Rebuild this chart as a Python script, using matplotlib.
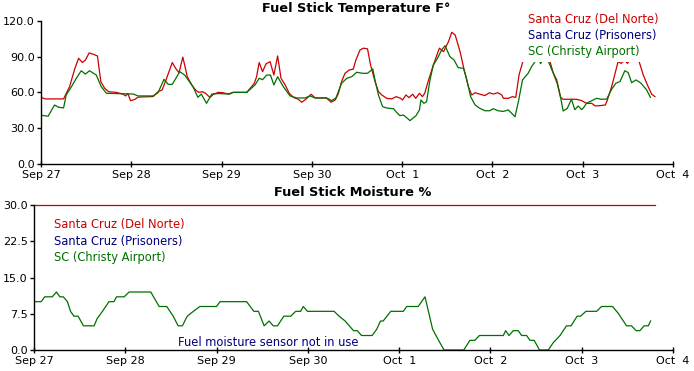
import matplotlib
matplotlib.use("Agg")
import matplotlib.pyplot as plt
from matplotlib.patches import Rectangle

# hours since Sep 27 00:00
day_ticks = [0, 24, 48, 72, 96, 120, 144, 168]
day_labels = ["Sep 27", "Sep 28", "Sep 29", "Sep 30", "Oct  1", "Oct  2", "Oct  3", "Oct  4"]

series_names = ["Santa Cruz (Del Norte)", "Santa Cruz (Prisoners)", "SC (Christy Airport)"]
series_colors = ["#cc0000", "#000080", "#007000"]

# Del Norte temperature
dn_hours = [0, 1.0, 6.0, 7.6, 9.0, 10.0, 11.0, 11.8, 12.8, 13.8, 15.0, 15.9, 16.9, 18.0, 20.0,
            21.8, 22.5, 23.1, 23.8, 24.9, 25.8, 29.8, 31.1, 32.2, 33.3, 34.9, 35.8, 36.7, 37.7,
            38.9, 40.2, 41.1, 41.9, 43.0, 43.8, 44.9, 45.8, 47.1, 48.4, 49.7, 51.1, 54.7, 55.6,
            56.7, 57.3, 58.0, 58.9, 59.8, 60.9, 61.9, 62.9, 63.8, 64.9, 66.0, 67.1, 68.4, 69.3,
            70.4, 71.8, 72.9, 75.9, 77.1, 78.2, 79.0, 79.9, 80.8, 81.9, 83.0, 83.7, 84.8, 85.7,
            86.8, 87.6, 88.8, 89.7, 90.6, 91.9, 93.2, 94.4, 95.6, 96.1, 97.0, 97.8, 98.8, 99.6,
            100.6, 101.4, 102.0, 102.9, 104.3, 105.9, 107.0, 108.3, 109.2, 110.1, 111.4, 112.4,
            113.6, 114.5, 115.4, 116.7, 118.0, 119.2, 120.2, 121.4, 122.5, 122.9, 124.2, 125.3,
            126.2, 127.1, 128.2, 129.5, 131.0, 133.0, 134.5, 135.3, 136.2, 137.2, 138.1, 138.8,
            142.3, 143.7, 145.0, 146.4, 147.3, 148.6, 150.0, 150.4, 151.7, 152.6, 153.4, 154.2,
            155.1, 155.9, 156.8, 158.0, 159.0, 160.1, 161.2, 162.3, 163.2]
dn_temp = [56, 54.5, 54.5, 64.8, 80, 88.5, 85, 87, 93, 92, 90.5, 69, 63.5, 60.5, 60,
           58.5, 57, 59, 53, 54, 56, 56.5, 60.5, 62, 71, 85, 80, 76.5, 89.5,
           73, 65.5, 62, 60, 60.5, 59, 55.8, 58.2, 60, 59.7, 58.6, 60, 60, 63.4,
           67.6, 73, 85, 77.3, 83.8, 85.7, 74.5, 90.5, 71.8, 66.2, 59.2, 55.8, 54.2, 51.7,
           54.2, 58.4, 55.3, 55.3, 51.7, 53.6, 58.6, 69, 75.9, 78.7, 79.4, 87, 95.5, 97,
           96.4, 83, 69, 60.6, 57.8, 55, 54.5, 56.4, 55, 53.6, 57.8, 55.6, 58.4, 55,
           59.2, 56.4, 59.2, 69, 83, 97, 94, 102.4, 110.3, 108, 94, 80,
           64.8, 57.8, 59.7, 58.4, 57.3, 59.7, 58.6, 59.7, 57.8, 55, 55, 56.4,
           55.8, 75, 87, 92, 95, 96, 92, 85.7, 75.9, 67.6, 55.8, 54.2,
           54.2, 53.1, 50.8, 50.8, 48.6, 48.9, 49.4, 52.2, 64.8, 75.9, 85.7, 84.3,
           86.6, 84.3, 88, 89, 85.7, 74.5, 66.2, 58.6, 56.4]

# Christy Airport temperature
ca_hours = [0, 1.9, 3.6, 4.7, 6.0, 6.7, 8.1, 9.4, 10.7, 11.8, 12.9, 14.7, 16.0, 17.4, 24.5,
            25.8, 29.8, 31.1, 32.7, 33.8, 34.9, 36.9, 38.2, 40.4, 41.7, 42.6, 44.0, 45.4, 47.1,
            50.2, 51.1, 54.7, 56.9, 58.0, 58.9, 60.0, 61.0, 61.9, 62.9, 64.4, 66.2, 68.0, 70.2,
            71.5, 72.9, 75.9, 77.3, 78.4, 79.9, 81.3, 82.6, 83.9, 85.6, 86.8, 88.2, 88.8, 89.7,
            90.8, 91.9, 93.7, 94.4, 95.4, 96.3, 97.2, 98.1, 98.8, 99.7, 100.6, 101.0, 101.8,
            102.5, 103.4, 104.3, 105.4, 106.5, 107.4, 108.7, 109.8, 110.9, 112.3, 113.1, 114.2,
            115.4, 116.5, 118.0, 119.3, 120.2, 121.5, 122.9, 124.2, 125.1, 126.0, 126.9, 128.0,
            129.5, 130.4, 131.6, 132.2, 132.8, 133.6, 134.8, 136.0, 137.1, 138.0, 138.8, 139.9,
            141.0, 141.9, 142.8, 143.7, 144.3, 145.0, 146.4, 147.7, 149.0, 150.4, 151.7, 152.8,
            153.9, 155.2, 156.1, 157.0, 158.2, 159.5, 161.0, 162.0]
ca_temp = [40.8, 40, 49.4, 47.5, 47, 57.8, 64.8, 71.8, 78.1, 75.3, 78.1, 74.5, 64.8, 59.2, 58.6,
           57, 57, 59.7, 70.9, 66.7, 66.7, 77.3, 74.5, 64.8, 55.8, 58.6, 50.8, 58.6, 59,
           58.6, 60, 60, 66.2, 71.8, 70.6, 74.5, 74.5, 66.2, 73.1, 64.8, 57, 55.3, 55.3,
           57, 55.3, 55.3, 53.1, 55.3, 67.6, 71.8, 73.1, 76.8, 75.9, 76, 79.6, 70, 57.8,
           48, 46.9, 46.3, 43.7, 40.5, 41, 38.8, 36.3, 38.2, 40.5, 45.3, 53.6, 50.8,
           52.2, 70.4, 82.9, 88.5, 95.5, 99.1, 89.9, 87.1, 80.7, 80.1, 71.8, 56.4,
           49.4, 46.9, 44.6, 44.6, 46.3, 44.6, 44, 45.3, 42.5, 39.6, 52.2, 70.4,
           76, 81.5, 87, 89, 84, 89, 86.5, 77.3, 70.4, 57.8, 44.4, 46.6,
           54.2, 45.5, 48.6, 45.5, 47.5, 50.8, 53, 55, 54.2, 54.4, 62.6, 67.6,
           69, 78.1, 76.5, 68.1, 70.4, 67.6, 62, 55.8]

# fuel moisture
dn_moist_hours = [0, 163.3]
dn_moist = [30, 30]

ca_moist_hours = [0, 1.9, 2.8, 4.8, 5.9, 6.8, 7.7, 8.8, 9.6, 10.5, 11.6, 13, 15.8, 16.6, 18, 19.7,
                  21, 21.7, 23.7, 25, 30.7, 32.9, 34.9, 36.6, 37.9, 39, 40.3, 41.9, 43.6, 48, 48.9,
                  55.9, 57.8, 59, 60.5, 61.8, 62.9, 64, 65.7, 67.5, 68.8, 70.1, 70.8, 71.9, 78.9,
                  80.2, 81.8, 84, 85, 86.1, 88.9, 90.1, 91.1, 91.8, 93.8, 97.1, 98, 101, 102.8,
                  103.4, 104.8, 106.3, 107.8, 113, 114.6, 115.9, 117.1, 123.4, 124, 124.9, 126,
                  127.3, 128.2, 129.5, 130.4, 131.5, 132.9, 135.2, 136.5, 138.3, 140, 141.2, 142.8,
                  143.7, 145.1, 147.9, 149.2, 152.1, 153.6, 155.8, 157.1, 158.3, 159.3, 160.4,
                  161.5, 162.1]
ca_moist = [10, 10, 11, 11, 12, 11, 11, 10, 8, 7, 7, 5, 5, 6.5, 8, 10,
            10, 11, 11, 12, 12, 9, 9, 7, 5, 5, 7, 8, 9, 9, 10,
            10, 8, 8, 5, 6, 5, 5, 7, 7, 8, 8, 9, 8, 8,
            7, 6, 4, 4, 3, 3, 4.3, 6, 6, 8, 8, 9, 9, 11,
            9, 4.3, 2.1, 0, 0, 2, 2, 3, 3, 4, 3, 4,
            4, 3, 3, 2, 2, 0, 0, 1.5, 3, 5, 5, 7,
            7, 8, 8, 9, 9, 7.6, 5, 5, 4, 4, 5,
            5, 6]

temp_ticks = [0, 30, 60, 90, 120]
moist_ticks = [0, 7.5, 15, 22.5, 30]

W, H = 694, 371


def fx(px):
    return px / W


def fy(py):
    return 1 - py / H


def style_axes(ax, yticks):
    for side in ["top", "right"]:
        ax.spines[side].set_visible(False)
    for side in ["left", "bottom"]:
        ax.spines[side].set_linewidth(1.0)
        ax.spines[side].set_zorder(5)
    ax.set_xlim(0, 168)
    ax.set_xticks(day_ticks)
    ax.set_xticklabels(day_labels)
    ax.set_yticks(yticks)
    ax.set_yticklabels([f"{v:.1f}" for v in yticks])
    ax.tick_params(axis="x", direction="inout", length=5, width=1, pad=1.5, labelsize=8)
    ax.tick_params(axis="y", direction="out", length=3, width=1, pad=1.5, labelsize=8)
    ax.patch.set_alpha(0)


fig = plt.figure(figsize=(W / 100, H / 100), dpi=100)

# temperature panel
ax1 = fig.add_axes([fx(41), fy(164), (673 - 41) / W, (164 - 20.7) / H])
ax1.plot(dn_hours, dn_temp, color=series_colors[0], lw=0.9, zorder=2)
ax1.plot(ca_hours, ca_temp, color=series_colors[2], lw=0.9, zorder=2)
ax1.set_ylim(0, 120)
style_axes(ax1, temp_ticks)
# legend block hides the lines behind it, as in the original
ax1.add_patch(Rectangle((127.9, 85.8), 165 - 127.9, 41, facecolor="white",
                        edgecolor="none", zorder=3, clip_on=False))
for i, name in enumerate(series_names):
    fig.text(fx(527.5), fy(20 + 16 * i), name, color=series_colors[i], fontsize=8.3,
             va="center", ha="left", zorder=4)

fig.text(fx(356), fy(8.5), "Fuel Stick Temperature F°", fontsize=9.3, fontweight="bold",
         ha="center", va="center")

# moisture panel
ax2 = fig.add_axes([fx(34), fy(350), (673 - 34) / W, (350 - 205) / H])
ax2.plot(dn_moist_hours, dn_moist, color=series_colors[0], lw=0.9, zorder=2, clip_on=False)
ax2.plot(ca_moist_hours, ca_moist, color=series_colors[2], lw=0.9, zorder=2)
ax2.set_ylim(0, 30)
style_axes(ax2, moist_ticks)
for i, name in enumerate(series_names):
    fig.text(fx(54), fy(224.5 + 16.5 * i), name, color=series_colors[i], fontsize=8.3,
             va="center", ha="left")
fig.text(fx(178.5), fy(342.5), "Fuel moisture sensor not in use", color=series_colors[1],
         fontsize=8.3, va="center", ha="left")

fig.text(fx(352.5), fy(193), "Fuel Stick Moisture %", fontsize=9.3, fontweight="bold",
         ha="center", va="center")

fig.savefig("out.png", dpi=100)
